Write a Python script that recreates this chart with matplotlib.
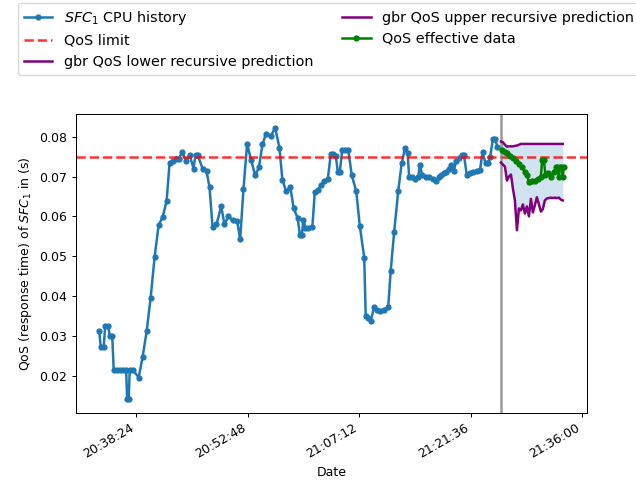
import matplotlib
matplotlib.use("Agg")
import matplotlib.pyplot as plt
import matplotlib.dates as mdates
from matplotlib.ticker import MultipleLocator
import pandas as pd

BASE = pd.Timestamp("2020-01-01 20:30:00")
QOS_LIMIT = 0.075

# SFC_1 response-time history (minutes after BASE, seconds)
hist_min = [
    3.60, 3.79, 4.18, 4.37, 4.76, 4.95, 5.28, 5.47, 5.86, 6.24,
    6.63, 7.08, 7.21, 7.41, 7.54, 7.92, 8.70, 9.21, 9.73, 10.25,
    10.76, 11.28, 11.79, 12.31, 12.70, 13.08, 13.47, 13.86, 14.34, 14.85,
    15.28, 15.79, 16.05, 16.31, 16.96, 17.47, 17.86, 18.25, 18.76, 19.37,
    19.79, 20.31, 20.83, 21.43, 21.82, 22.25, 22.72, 23.24, 23.76, 24.25,
    24.70, 25.17, 25.82, 26.34, 26.89, 27.28, 27.76, 28.31, 28.74, 29.25,
    29.54, 29.79, 29.99, 30.25, 30.63, 31.15, 31.47, 31.92, 32.31, 32.70,
    33.15, 33.54, 33.86, 34.18, 34.44, 34.70, 35.02, 35.41, 35.79, 36.25,
    36.83, 37.28, 37.86, 38.05, 38.37, 38.70, 39.15, 39.54, 39.92, 40.44,
    40.96, 41.28, 41.73, 42.25, 42.70, 43.15, 43.47, 43.66, 44.05, 44.44,
    44.83, 45.08, 45.34, 45.86, 46.25, 46.76, 47.15, 47.54, 47.79, 48.18,
    48.44, 48.83, 49.08, 49.47, 49.73, 50.12, 50.50, 50.76, 51.11, 51.54,
    51.92, 52.44, 52.83, 53.15, 53.54, 53.86, 54.12, 54.50, 54.76, 55.08,
]
hist_qos = [
    0.0311, 0.0272, 0.0272, 0.0325, 0.0325, 0.0300, 0.0300, 0.0215, 0.0215, 0.0215,
    0.0215, 0.0215, 0.0140, 0.0140, 0.0215, 0.0215, 0.0195, 0.0247, 0.0311, 0.0396,
    0.0498, 0.0578, 0.0598, 0.0638, 0.0735, 0.0740, 0.0743, 0.0745, 0.0761, 0.0738,
    0.0755, 0.0720, 0.0755, 0.0755, 0.0720, 0.0713, 0.0673, 0.0573, 0.0580, 0.0625,
    0.0580, 0.0600, 0.0590, 0.0588, 0.0542, 0.0670, 0.0782, 0.0741, 0.0703, 0.0723,
    0.0781, 0.0808, 0.0803, 0.0823, 0.0773, 0.0692, 0.0663, 0.0673, 0.0620, 0.0596,
    0.0553, 0.0553, 0.0592, 0.0572, 0.0572, 0.0573, 0.0661, 0.0667, 0.0680, 0.0688,
    0.0694, 0.0757, 0.0757, 0.0752, 0.0712, 0.0712, 0.0767, 0.0767, 0.0767, 0.0703,
    0.0663, 0.0577, 0.0496, 0.0350, 0.0345, 0.0338, 0.0372, 0.0365, 0.0363, 0.0365,
    0.0372, 0.0463, 0.0561, 0.0663, 0.0733, 0.0773, 0.0758, 0.0700, 0.0698, 0.0694,
    0.0700, 0.0730, 0.0703, 0.0700, 0.0698, 0.0694, 0.0690, 0.0698, 0.0703, 0.0708,
    0.0711, 0.0720, 0.0730, 0.0715, 0.0740, 0.0746, 0.0753, 0.0753, 0.0705, 0.0710,
    0.0711, 0.0715, 0.0717, 0.0761, 0.0733, 0.0735, 0.0748, 0.0794, 0.0794, 0.0775,
]

# start of the recursive prediction horizon
split_min = 55.50

# gbr recursive prediction band
pred_min = [
    55.54, 55.79, 56.05, 56.31, 56.57, 56.83, 57.08, 57.34, 57.60, 57.86,
    58.12, 58.37, 58.63, 58.89, 59.15, 59.41, 59.66, 59.92, 60.18, 60.44,
    60.70, 60.95, 61.21, 61.47, 61.73, 61.99, 62.24, 62.50, 62.76, 63.02,
    63.28, 63.53,
]
pred_lower = [
    0.0735, 0.0730, 0.0725, 0.0690, 0.0700, 0.0705, 0.0670, 0.0640, 0.0565, 0.0620,
    0.0615, 0.0630, 0.0607, 0.0625, 0.0600, 0.0644, 0.0610, 0.0628, 0.0648, 0.0630,
    0.0612, 0.0618, 0.0640, 0.0645, 0.0646, 0.0647, 0.0646, 0.0647, 0.0646, 0.0647,
    0.0642, 0.0640,
]
pred_upper = [
    0.0788, 0.0786, 0.0780, 0.0775, 0.0776, 0.0776, 0.0776, 0.0777, 0.0778, 0.0780,
    0.0782, 0.0782, 0.0782, 0.0782, 0.0782, 0.0782, 0.0782, 0.0782, 0.0782, 0.0782,
    0.0782, 0.0782, 0.0782, 0.0782, 0.0782, 0.0782, 0.0782, 0.0782, 0.0782, 0.0782,
    0.0782, 0.0782,
]

# measured QoS over the prediction horizon
eff_min = [
    55.70, 56.05, 56.37, 56.70, 57.08, 57.47, 57.86, 58.25, 58.63, 58.89,
    59.15, 59.54, 59.92, 60.31, 60.70, 60.86, 61.08, 61.28, 61.60, 61.99,
    62.37, 62.63, 62.83, 63.02, 63.21, 63.41, 63.53, 63.66,
]
eff_qos = [
    0.0768, 0.0762, 0.0758, 0.0752, 0.0747, 0.0740, 0.0732, 0.0723, 0.0712, 0.0705,
    0.0686, 0.0690, 0.0690, 0.0694, 0.0700, 0.0742, 0.0742, 0.0703, 0.0708, 0.0700,
    0.0711, 0.0723, 0.0723, 0.0700, 0.0725, 0.0725, 0.0700, 0.0725,
]


def to_time(minutes):
    return (BASE + pd.to_timedelta(minutes, unit="min")).to_numpy()


t_hist = to_time(hist_min)
t_pred = to_time(pred_min)
t_eff = to_time(eff_min)

dpi = 90
fig = plt.figure(figsize=(636 / dpi, 490 / dpi), dpi=dpi)
ax = fig.add_axes([0.1195, 0.1571, 0.8035, 0.6102])

ax.plot(t_hist, hist_qos, marker=".", ms=8, lw=2, color="C0",
        label="$SFC_1$ CPU history")
ax.axhline(QOS_LIMIT, color="red", linestyle="--", lw=2, alpha=0.8, label="QoS limit")
ax.axvline(to_time([split_min])[0], color="grey", lw=2, alpha=0.8)
ax.plot(t_pred, pred_lower, color="purple", lw=2, label="gbr QoS lower recursive prediction")
ax.plot(t_pred, pred_upper, color="purple", lw=2, label="gbr QoS upper recursive prediction")
ax.fill_between(t_pred, pred_lower, pred_upper, color="C0", alpha=0.2, lw=0)
ax.plot(t_eff, eff_qos, marker=".", ms=8, lw=2, color="green", label="QoS effective data")

ax.xaxis.set_major_locator(MultipleLocator(0.01))  # 0.01 day = 14.4 min
ax.xaxis.set_major_formatter(mdates.DateFormatter("%H:%M:%S"))
plt.setp(ax.get_xticklabels(), rotation=30, ha="right")
ax.set_xlabel("Date")
ax.set_ylabel("QoS (response time) of $SFC_1$ in (s)")

fig.legend(loc="upper left", bbox_to_anchor=(0.028, 0.994), ncol=2,
           fontsize=11.5, borderaxespad=0)

fig.savefig("out.png", dpi=dpi)
